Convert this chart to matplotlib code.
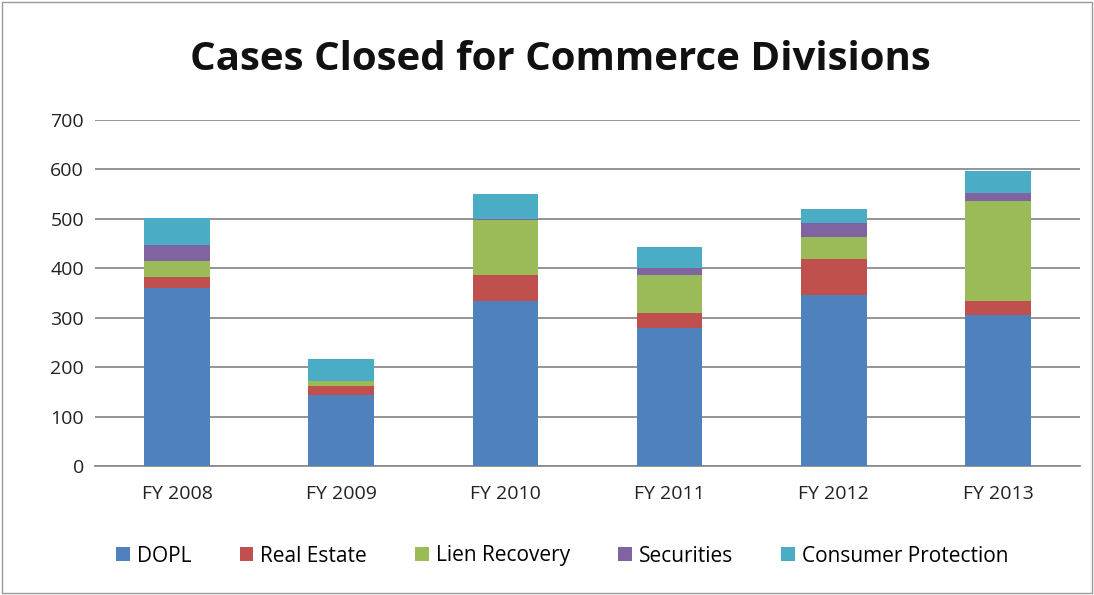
import matplotlib

matplotlib.use("Agg")

import matplotlib.pyplot as plt
import numpy as np

YEARS = ["FY 2008", "FY 2009", "FY 2010", "FY 2011", "FY 2012", "FY 2013"]
DIVISIONS = ["DOPL", "Real Estate", "Lien Recovery", "Securities", "Consumer Protection"]

DOPL = [361, 143, 334, 280, 346, 305]
REAL_ESTATE = [22, 19, 52, 30, 73, 29]
LIEN_RECOVERY = [32, 10, 111, 76, 45, 202]
SECURITIES = [33, 0, 3, 14, 27, 16]
CONSUMER_PROTECTION = [53, 45, 51, 43, 29, 44]

COLORS = ["#4F81BD", "#C0504D", "#9BBB59", "#8064A2", "#4BACC6"]

plt.rcParams["font.family"] = ["Open Sans", "DejaVu Sans"]

fig = plt.figure(figsize=(10.94, 5.95), dpi=100)
ax = fig.add_axes([95 / 1094, 1 - 466 / 595, 985 / 1094, 346 / 595])

x = np.arange(len(YEARS))
bottom = np.zeros(len(YEARS))
series = [DOPL, REAL_ESTATE, LIEN_RECOVERY, SECURITIES, CONSUMER_PROTECTION]
for name, values, color in zip(DIVISIONS, series, COLORS):
    ax.bar(x, values, width=0.4, bottom=bottom, color=color, label=name, zorder=3)
    bottom += np.array(values)

ax.set_xlim(-0.5, len(YEARS) - 0.5)
ax.set_ylim(0, 700)
ax.set_yticks(range(0, 701, 100))
ax.set_xticks(x)
ax.set_xticklabels(YEARS)
ax.grid(axis="y", color="#8C8C8C", linewidth=1.3, zorder=0)
for side in ["left", "right", "top"]:
    ax.spines[side].set_visible(False)
ax.spines["bottom"].set_color("#8C8C8C")
ax.spines["bottom"].set_linewidth(1.3)
ax.tick_params(axis="y", length=0, labelsize=14, colors="#222222", pad=8)
ax.tick_params(axis="x", length=0, labelsize=14, colors="#222222", pad=14)

fig.text(0.512, 1 - 60 / 595, "Cases Closed for Commerce Divisions",
         ha="center", va="center", fontsize=29, fontweight="bold", color="#111111")

fig.legend(loc="center", bbox_to_anchor=(0.514, 1 - 556 / 595), ncol=5,
           frameon=False, fontsize=15, handlelength=0.65, handleheight=0.65,
           handletextpad=0.35, columnspacing=2.3)

# thin chart-area border
fig.patches.append(plt.Rectangle((0.002, 0.003), 0.996, 0.994, transform=fig.transFigure,
                                 fill=False, edgecolor="#9A9A9A", linewidth=1.0))

fig.savefig("out.png", dpi=100)
